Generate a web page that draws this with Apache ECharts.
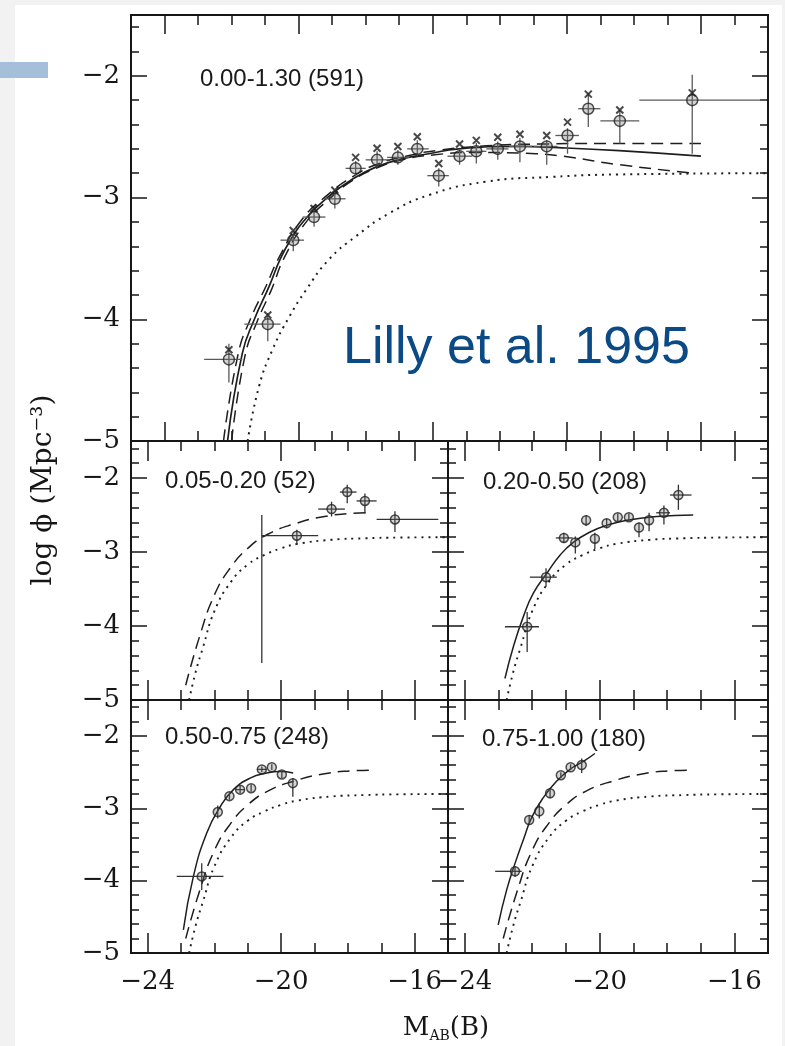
<!DOCTYPE html>
<html>
<head>
<meta charset="utf-8">
<script src="https://cdn.jsdelivr.net/npm/echarts@6/dist/echarts.min.js"></script>
<style>
  html, body { margin: 0; padding: 0; background: #f2f2f2; }
  #chart { width: 785px; height: 1046px; }
</style>
</head>
<body>
<div id="chart"></div>
<script>
// ---------------- tick values ----------------
const xMajorWide = [-24, -22, -20, -18, -16];
const xMinorWide = [-24, -23.5, -23, -22.5, -22, -21.5, -21, -20.5, -20, -19.5, -19, -18.5, -18, -17.5, -17, -16.5, -16, -15.5];
const xMajorNarrow = [-24, -20, -16];
const xMinorNarrow = [-24, -23, -22, -21, -20, -19, -18, -17, -16];
const yMajor = [-5, -4, -3, -2];
const yMinor = [-5, -4.8, -4.6, -4.4, -4.2, -4, -3.8, -3.6, -3.4, -3.2, -3, -2.8, -2.6, -2.4, -2.2, -2, -1.8, -1.6];

// ---------------- panel titles ----------------
const panelTitles = ['0.00-1.30 (591)', '0.05-0.20 (52)', '0.20-0.50 (208)', '0.50-0.75 (248)', '0.75-1.00 (180)'];

// ---------------- data: [M, logPhi, Mlo, Mhi, phiLo, phiHi] ----------------
const allZPoints = [
  [-23.04, -4.33, -23.41, -22.84, -4.52, -4.20],
  [-22.46, -4.04, -22.81, -22.27, -4.18, -3.95],
  [-22.08, -3.35, -22.27, -21.92, -3.44, -3.27],
  [-21.77, -3.16, -21.94, -21.60, -3.24, -3.08],
  [-21.46, -3.01, -21.62, -21.30, -3.09, -2.95],
  [-21.15, -2.76, -21.30, -21.00, -2.83, -2.70],
  [-20.83, -2.69, -21.00, -20.65, -2.75, -2.62],
  [-20.52, -2.67, -20.68, -20.35, -2.73, -2.61],
  [-20.23, -2.60, -20.38, -20.06, -2.66, -2.53],
  [-19.91, -2.82, -20.08, -19.76, -2.91, -2.76],
  [-19.60, -2.66, -19.78, -19.41, -2.73, -2.61],
  [-19.35, -2.62, -19.50, -19.20, -2.72, -2.55],
  [-19.03, -2.60, -19.20, -18.87, -2.69, -2.54],
  [-18.70, -2.58, -18.86, -18.52, -2.71, -2.51],
  [-18.30, -2.58, -18.49, -18.14, -2.73, -2.53],
  [-17.99, -2.49, -18.17, -17.82, -2.64, -2.43],
  [-17.68, -2.27, -17.83, -17.50, -2.42, -2.14],
  [-17.21, -2.37, -17.50, -16.92, -2.555, -2.28],
  [-16.13, -2.20, -16.92, -15.03, -2.64, -1.99]
];
const allZCrosses = [
  [-23.04, -4.25], [-22.46, -3.965], [-22.08, -3.27], [-21.77, -3.09], [-21.46, -2.94],
  [-21.15, -2.67], [-20.83, -2.595], [-20.52, -2.58], [-20.23, -2.50], [-19.91, -2.72],
  [-19.60, -2.56], [-19.35, -2.53], [-19.03, -2.505], [-18.70, -2.48], [-18.30, -2.49],
  [-17.99, -2.38], [-17.68, -2.15], [-17.21, -2.28], [-16.13, -2.14]
];
const z005Points = [
  [-19.53, -2.78, -20.58, -18.89, -2.90, -2.70],
  [-18.49, -2.42, -18.89, -18.09, -2.52, -2.32],
  [-18.02, -2.19, -18.24, -17.74, -2.34, -2.09],
  [-17.49, -2.31, -17.74, -17.14, -2.48, -2.21],
  [-16.59, -2.56, -17.14, -15.29, -2.73, -2.45]
];
const z005Bar = [[-20.58, -3.5, -20.58, -20.58, -4.50, -2.50]];
const z020Points = [
  [-22.15, -4.01, -22.81, -21.80, -4.35, -3.81],
  [-21.59, -3.34, -22.07, -21.27, -3.47, -3.22],
  [-21.06, -2.81, -21.30, -20.80, -2.88, -2.74],
  [-20.72, -2.87, -20.72, -20.72, -3.02, -2.79],
  [-20.40, -2.57, -20.40, -20.40, -2.65, -2.50],
  [-20.14, -2.82, -20.14, -20.14, -2.96, -2.74],
  [-19.79, -2.61, -19.79, -19.79, -2.68, -2.55],
  [-19.46, -2.53, -19.46, -19.46, -2.58, -2.48],
  [-19.13, -2.53, -19.13, -19.13, -2.58, -2.48],
  [-18.83, -2.67, -18.83, -18.83, -2.80, -2.60],
  [-18.53, -2.57, -18.53, -18.53, -2.72, -2.47],
  [-18.09, -2.47, -18.32, -17.91, -2.63, -2.37],
  [-17.66, -2.23, -17.91, -17.27, -2.43, -2.09]
];
const z050Points = [
  [-22.38, -3.94, -23.13, -21.73, -4.13, -3.76],
  [-21.90, -3.05, -21.90, -21.90, -3.14, -2.96],
  [-21.55, -2.83, -21.55, -21.55, -2.88, -2.78],
  [-21.23, -2.74, -21.35, -21.10, -2.79, -2.69],
  [-20.90, -2.72, -20.90, -20.90, -2.77, -2.67],
  [-20.58, -2.46, -20.72, -20.45, -2.50, -2.42],
  [-20.28, -2.43, -20.28, -20.28, -2.47, -2.39],
  [-19.98, -2.53, -19.98, -19.98, -2.58, -2.49],
  [-19.65, -2.65, -19.65, -19.65, -2.84, -2.58]
];
const z075Points = [
  [-22.51, -3.87, -23.10, -22.31, -3.95, -3.80],
  [-22.09, -3.16, -22.09, -22.09, -3.22, -3.09],
  [-21.79, -3.04, -21.79, -21.79, -3.14, -2.93],
  [-21.47, -2.79, -21.47, -21.47, -2.86, -2.72],
  [-21.15, -2.54, -21.15, -21.15, -2.58, -2.50],
  [-20.86, -2.43, -20.86, -20.86, -2.47, -2.39],
  [-20.53, -2.40, -20.53, -20.53, -2.51, -2.31]
];

// ---------------- fitted curves: [M, logPhi] ----------------
const allZSolid = [[-23.06, -5.0], [-22.84, -4.28], [-22.66, -4.0], [-22.44, -3.73], [-22.27, -3.50], [-22.10, -3.33],
  [-21.92, -3.19], [-21.55, -2.99], [-21.2, -2.85], [-20.85, -2.75], [-20.45, -2.68], [-20.06, -2.64],
  [-19.61, -2.60], [-18.71, -2.58], [-18.12, -2.59], [-17.22, -2.615], [-16.0, -2.66]];
const allZDashFlat = [[-23.12, -5.0], [-22.9, -4.28], [-22.72, -4.0], [-22.48, -3.72], [-22.3, -3.5], [-21.95, -3.18],
  [-21.55, -2.97], [-21.2, -2.83], [-20.85, -2.73], [-20.4, -2.66], [-19.9, -2.61], [-19.2, -2.575],
  [-18.4, -2.56], [-17.2, -2.555], [-16.0, -2.555]];
const allZDashFalling = [[-23.0, -5.0], [-22.8, -4.3], [-22.62, -4.02], [-22.4, -3.75], [-22.22, -3.5], [-21.9, -3.21],
  [-21.52, -3.0], [-21.2, -2.86], [-20.85, -2.76], [-20.45, -2.69], [-20.0, -2.65], [-19.4, -2.63],
  [-18.46, -2.64], [-18.06, -2.66], [-17.22, -2.73], [-16.1, -2.80]];
const allZLocal = [[-22.76, -5.0], [-22.59, -4.55], [-22.39, -4.25], [-22.14, -3.98], [-21.89, -3.76], [-21.55, -3.51],
  [-21.15, -3.32], [-20.65, -3.13], [-20.06, -2.98], [-19.21, -2.87], [-18.22, -2.83], [-17.22, -2.81], [-15.0, -2.80]];
const localLF = [[-22.76, -5.0], [-22.55, -4.6], [-22.35, -4.3], [-22.0, -3.8], [-21.5, -3.4], [-21.0, -3.17],
  [-20.5, -3.04], [-20.0, -2.95], [-19.5, -2.89], [-18.5, -2.835], [-17.5, -2.815], [-16.5, -2.805], [-15.0, -2.8]];
const lowZFit = [[-22.86, -4.8], [-22.45, -4.15], [-22.0, -3.58], [-21.5, -3.2], [-21.0, -2.95], [-20.4, -2.76],
  [-19.6, -2.62], [-18.7, -2.52], [-17.9, -2.48], [-17.3, -2.47]];
const z020Fit = [[-22.81, -4.71], [-22.56, -4.28], [-22.26, -3.87], [-21.97, -3.56], [-21.57, -3.29], [-21.17, -3.04],
  [-20.78, -2.87], [-20.28, -2.73], [-19.79, -2.64], [-19.19, -2.57], [-18.3, -2.52], [-17.22, -2.50]];
const z050Fit = [[-22.93, -4.68], [-22.63, -3.94], [-22.23, -3.34], [-21.83, -2.98], [-21.43, -2.74], [-20.93, -2.58],
  [-20.43, -2.51], [-20.03, -2.49], [-19.64, -2.51]];
const z075Fit = [[-23.01, -4.61], [-22.76, -4.13], [-22.51, -3.76], [-22.26, -3.43], [-22.02, -3.13], [-21.67, -2.85],
  [-21.27, -2.62], [-20.88, -2.46], [-20.48, -2.35], [-20.14, -2.24]];

// ---------------- layout ----------------
const INK = '#161616';
const AXIS_FONT = 'DejaVu Serif';
const XMIN = -24.5, XMAX = -15, YMIN = -5, YMAX = -1.5;

const panels = [
  { rect: [131, 15, 637, 426], xMajor: xMajorWide, xMinor: xMinorWide, xLab: false, yLab: true, titlePos: [200, 79], big: true },
  { rect: [131, 441, 317, 259], xMajor: xMajorNarrow, xMinor: xMinorNarrow, xLab: false, yLab: true, titlePos: [165, 481] },
  { rect: [448, 441, 320, 259], xMajor: xMajorNarrow, xMinor: xMinorNarrow, xLab: false, yLab: false, titlePos: [483, 482] },
  { rect: [131, 700, 317, 253], xMajor: xMajorNarrow, xMinor: xMinorNarrow, xLab: true, yLab: true, titlePos: [165, 737] },
  { rect: [448, 700, 320, 253], xMajor: xMajorNarrow, xMinor: xMinorNarrow, xLab: true, yLab: false, titlePos: [482, 739] }
];

const fmt = v => (v < 0 ? '\u2212' : '') + Math.abs(v);

const grids = [], xAxes = [], yAxes = [];
panels.forEach((p, gi) => {
  grids.push({ left: p.rect[0], top: p.rect[1], width: p.rect[2], height: p.rect[3], containLabel: false });
  const xm = p.big ? 19 : 20, xn = 10, ym = 16, yn = 8;
  const mkX = (pos, ticks, len, labels) => ({
    type: 'value', gridIndex: gi, position: pos, min: XMIN, max: XMAX,
    axisLine: { show: true, onZero: false, lineStyle: { color: INK, width: 1.8 } },
    axisTick: { show: true, inside: true, length: len, customValues: ticks, lineStyle: { color: INK, width: 1.5 } },
    axisLabel: labels
      ? { show: true, customValues: p.xMajor, formatter: fmt, margin: 16, fontFamily: AXIS_FONT, fontSize: 26, color: INK }
      : { show: false },
    splitLine: { show: false }
  });
  const mkY = (pos, ticks, len, labels) => ({
    type: 'value', gridIndex: gi, position: pos, min: YMIN, max: YMAX,
    axisLine: { show: true, onZero: false, lineStyle: { color: INK, width: 1.8 } },
    axisTick: { show: true, inside: true, length: len, customValues: ticks, lineStyle: { color: INK, width: 1.5 } },
    axisLabel: labels
      ? { show: true, customValues: yMajor, formatter: fmt, margin: 11, fontFamily: AXIS_FONT, fontSize: 26, color: INK }
      : { show: false },
    splitLine: { show: false }
  });
  xAxes.push(mkX('bottom', p.xMajor, xm, p.xLab), mkX('bottom', p.xMinor, xn, false),
             mkX('top', p.xMajor, xm, false), mkX('top', p.xMinor, xn, false));
  yAxes.push(mkY('left', yMajor, ym, p.yLab), mkY('left', yMinor, yn, false),
             mkY('right', yMajor, ym, false), mkY('right', yMinor, yn, false));
});

// ---------------- series builders ----------------
const series = [];
function curve(gi, data, kind, width) {
  const type = kind === 'solid' ? 'solid' : kind === 'dash' ? [12, 7] : [2, 5];
  series.push({
    type: 'line', xAxisIndex: 4 * gi, yAxisIndex: 4 * gi, data, showSymbol: false, symbol: 'none',
    smooth: 0.5, clip: true, silent: true, z: 2,
    lineStyle: { color: '#1e1e1e', width: width || (kind === 'dot' ? 1.9 : 1.5), type }
  });
}
function errorBars(gi, data, color) {
  series.push({
    type: 'custom', coordinateSystem: 'cartesian2d', xAxisIndex: 4 * gi, yAxisIndex: 4 * gi,
    data, encode: { x: 0, y: 1 }, clip: true, silent: true, z: 3,
    renderItem(params, api) {
      const x = api.value(0), y = api.value(1);
      const h1 = api.coord([api.value(2), y]), h2 = api.coord([api.value(3), y]);
      const v1 = api.coord([x, api.value(4)]), v2 = api.coord([x, api.value(5)]);
      const st = { stroke: color, lineWidth: 1.3 };
      return {
        type: 'group', children: [
          { type: 'line', shape: { x1: h1[0], y1: h1[1], x2: h2[0], y2: h2[1] }, style: st },
          { type: 'line', shape: { x1: v1[0], y1: v1[1], x2: v2[0], y2: v2[1] }, style: st }
        ]
      };
    }
  });
}
function circles(gi, data, size) {
  series.push({
    type: 'scatter', xAxisIndex: 4 * gi, yAxisIndex: 4 * gi, silent: true, z: 4,
    data: data.map(d => [d[0], d[1]]), symbol: 'circle', symbolSize: size,
    itemStyle: { color: 'rgba(105,105,105,0.35)', borderColor: '#222', borderWidth: 1.5 }
  });
}
function crosses(gi, data) {
  series.push({
    type: 'scatter', xAxisIndex: 4 * gi, yAxisIndex: 4 * gi, silent: true, z: 5,
    data, symbol: 'path://M0 0L10 10M10 0L0 10', symbolSize: 7,
    itemStyle: { color: '#222', borderColor: '#1a1a1a', borderWidth: 2 }
  });
}

// full sample
curve(0, allZLocal, 'dot', 2);
curve(0, allZDashFalling, 'dash');
curve(0, allZDashFlat, 'dash');
curve(0, allZSolid, 'solid', 1.7);
errorBars(0, allZPoints, '#5a5a5a');
circles(0, allZPoints, 11);
crosses(0, allZCrosses);

// 0.05-0.20
curve(1, localLF, 'dot');
curve(1, lowZFit, 'dash');
errorBars(1, z005Bar, '#333');
errorBars(1, z005Points, '#333');
circles(1, z005Points, 9);

// 0.20-0.50
curve(2, localLF, 'dot');
curve(2, z020Fit, 'solid');
errorBars(2, z020Points, '#333');
circles(2, z020Points, 9);

// 0.50-0.75
curve(3, localLF, 'dot');
curve(3, lowZFit, 'dash');
curve(3, z050Fit, 'solid');
errorBars(3, z050Points, '#333');
circles(3, z050Points, 9);

// 0.75-1.00
curve(4, localLF, 'dot');
curve(4, lowZFit, 'dash');
curve(4, z075Fit, 'solid');
errorBars(4, z075Points, '#333');
circles(4, z075Points, 9);

// ---------------- text & page decorations ----------------
const LABEL_FONT = 'Liberation Sans';
const graphic = [
  { type: 'rect', z: -20, silent: true, shape: { x: 15, y: 5, width: 767, height: 1041 }, style: { fill: '#ffffff' } },
  { type: 'rect', z: -19, silent: true, shape: { x: 0, y: 62, width: 48, height: 16 }, style: { fill: '#a3bfd9' } },
  {
    type: 'text', x: 343, y: 349, silent: true,
    style: { text: 'Lilly et al. 1995', fontFamily: LABEL_FONT, fontSize: 52, fill: '#0b4a84', align: 'left', verticalAlign: 'middle' }
  },
  {
    type: 'text', x: 44, y: 490, rotation: Math.PI / 2, silent: true,
    style: { text: 'log \u03d5 (Mpc\u207b\u00b3)', fontFamily: AXIS_FONT, fontSize: 28, fill: INK, align: 'center', verticalAlign: 'middle' }
  },
  {
    type: 'text', x: 446, y: 1028, silent: true,
    style: {
      text: '{m|M}{s|AB}{m|(B)}', align: 'center', verticalAlign: 'middle',
      rich: {
        m: { fontFamily: AXIS_FONT, fontSize: 26, fill: INK, lineHeight: 30 },
        s: { fontFamily: AXIS_FONT, fontSize: 14, fill: INK, lineHeight: 30, verticalAlign: 'bottom', padding: [12, 0, 0, 0] }
      }
    }
  }
];
panels.forEach((p, i) => {
  graphic.push({
    type: 'text', x: p.titlePos[0], y: p.titlePos[1], silent: true,
    style: { text: panelTitles[i], fontFamily: LABEL_FONT, fontSize: 24, fill: '#1a1a1a', align: 'left', verticalAlign: 'middle' }
  });
});

const chart = echarts.init(document.getElementById('chart'), null, { renderer: 'canvas' });
chart.setOption({
  backgroundColor: '#f2f2f2',
  animation: false,
  grid: grids,
  xAxis: xAxes,
  yAxis: yAxes,
  series,
  graphic
});
</script>
</body>
</html>
